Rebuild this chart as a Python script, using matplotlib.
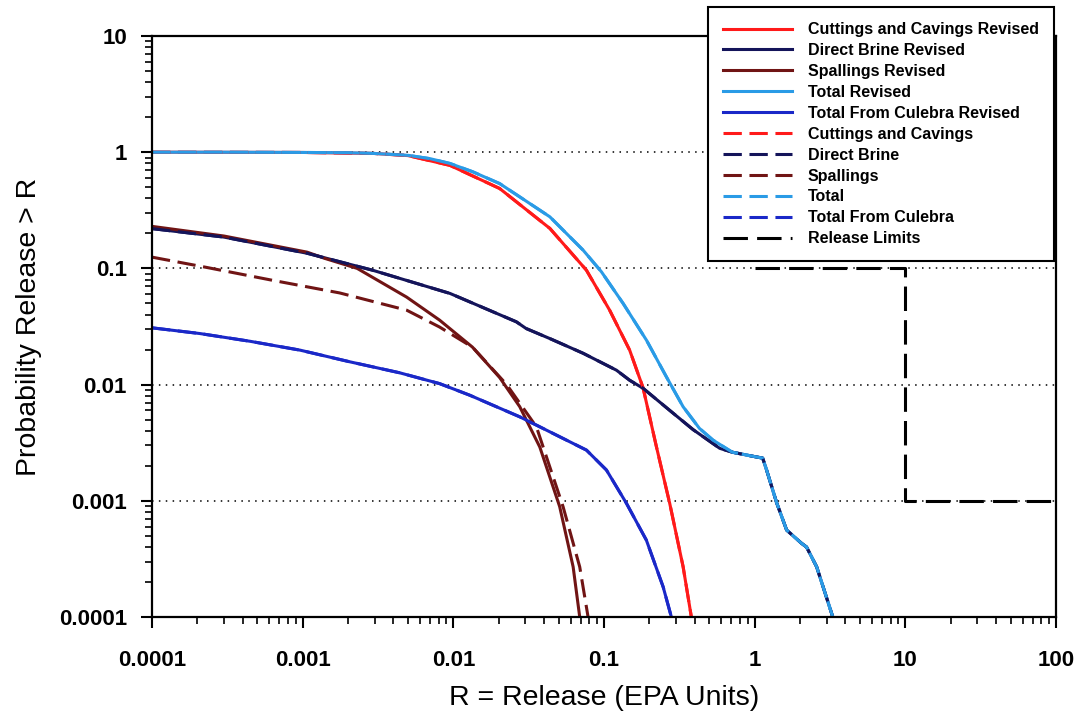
import numpy as np
import matplotlib
matplotlib.use("Agg")
import matplotlib.pyplot as plt
from matplotlib.ticker import FixedLocator, LogLocator, NullFormatter

plt.rcParams['font.family'] = ['Liberation Sans', 'DejaVu Sans']

# CCDF curves: release R (EPA units) vs probability release > R
cc_rev_x = [1e-4, 1e-3, 3e-3, 5e-3, 0.0095, 0.0203, 0.0437, 0.0764, 0.109, 0.148, 0.1816,
            0.2228, 0.273, 0.335, 0.38]
cc_rev_y = [1.0, 0.995, 0.975, 0.935, 0.77, 0.487, 0.221, 0.0966, 0.0437, 0.0198, 0.0094,
            0.00292, 0.00095, 0.000271, 0.0001]

db_rev_x = [1e-4, 3e-4, 1.07e-3, 2.9e-3, 0.0095, 0.0262, 0.0285, 0.0304, 0.0437, 0.0727,
            0.121, 0.148, 0.1816, 0.273, 0.39, 0.586, 0.71, 1.0, 1.13, 1.2, 1.4, 1.63,
            2.05, 2.21, 2.58, 3.3]
db_rev_y = [0.22, 0.186, 0.135, 0.0966, 0.0609, 0.0347, 0.0322, 0.0304, 0.0249, 0.0186,
            0.0133, 0.0109, 0.0093, 0.0060, 0.0041, 0.00283, 0.00262, 0.0024, 0.00233,
            0.00184, 0.00096, 0.00056, 0.00043, 0.0004, 0.00027, 0.0001]

sp_rev_x = [1e-4, 3e-4, 1.07e-3, 1.4e-3, 2.3e-3, 4.9e-3, 8.1e-3, 0.0134, 0.0203, 0.0276,
            0.0375, 0.0508, 0.0624, 0.069]
sp_rev_y = [0.23, 0.19, 0.138, 0.122, 0.1, 0.0566, 0.0359, 0.021, 0.0115, 0.00645,
            0.0029, 0.00089, 0.00027, 0.0001]

tot_rev_x = [1e-4, 3e-4, 1e-3, 2e-3, 3e-3, 5e-3, 7e-3, 0.0095, 0.0134, 0.0203, 0.0437,
             0.0727, 0.0962, 0.134, 0.1914, 0.2594, 0.335, 0.43, 0.529, 0.71, 1.0, 1.13,
             1.2, 1.4, 1.63, 2.05, 2.21, 2.58, 3.3]
tot_rev_y = [1.0, 1.0, 0.995, 0.99, 0.975, 0.94, 0.88, 0.80, 0.68, 0.537, 0.278,
             0.1435, 0.0934, 0.0499, 0.0241, 0.01167, 0.00645, 0.0042, 0.00333, 0.00262,
             0.0024, 0.00233, 0.00184, 0.00096, 0.00056, 0.00043, 0.0004, 0.00027, 0.0001]

cul_rev_x = [1e-4, 2.08e-4, 4.47e-4, 9.6e-4, 2.06e-3, 4.4e-3, 8.1e-3, 0.01286, 0.0276,
             0.0459, 0.0765, 0.1038, 0.141, 0.191, 0.2468, 0.28]
cul_rev_y = [0.0308, 0.0275, 0.0236, 0.0198, 0.0157, 0.01264, 0.0102, 0.0081, 0.00528,
             0.0038, 0.00273, 0.00184, 0.00095, 0.000459, 0.000182, 0.0001]

# earlier (non-revised) results
cc_x, cc_y = cc_rev_x, cc_rev_y
db_x, db_y = db_rev_x, db_rev_y
sp_x = [1e-4, 2.3e-4, 6.3e-4, 1.76e-3, 4.9e-3, 8.1e-3, 0.0134, 0.0226, 0.0356, 0.0535,
        0.069, 0.0784]
sp_y = [0.125, 0.102, 0.079, 0.0615, 0.0437, 0.0313, 0.021, 0.0100, 0.00433, 0.00089,
        0.00027, 0.0001]
tot_x, tot_y = tot_rev_x, tot_rev_y
cul_x, cul_y = cul_rev_x, cul_rev_y

limit_x = [1, 10, 10, 100]
limit_y = [0.1, 0.1, 0.001, 0.001]

RED = "#ff1a1a"
NAVY = "#14145a"
MAROON = "#701414"
LBLUE = "#2a9be6"
BLUE = "#1a28c8"

fig = plt.figure(figsize=(10.79, 7.19), dpi=100)
ax = fig.add_axes([152/1079, 1 - 617/719, (1056-152)/1079, (617-36)/719])

lw = 2.2
dash = (6, 2.5)
ax.plot(cc_rev_x, cc_rev_y, color=RED, lw=lw, label="Cuttings and Cavings Revised")
ax.plot(db_rev_x, db_rev_y, color=NAVY, lw=lw, label="Direct Brine Revised")
ax.plot(sp_rev_x, sp_rev_y, color=MAROON, lw=lw, label="Spallings Revised")
ax.plot(tot_rev_x, tot_rev_y, color=LBLUE, lw=lw, label="Total Revised")
ax.plot(cul_rev_x, cul_rev_y, color=BLUE, lw=lw, label="Total From Culebra Revised")
ax.plot(cc_x, cc_y, color=RED, lw=lw, dashes=dash, label="Cuttings and Cavings")
ax.plot(db_x, db_y, color=NAVY, lw=lw, dashes=dash, label="Direct Brine")
ax.plot(sp_x, sp_y, color=MAROON, lw=lw, dashes=dash, label="Spallings")
ax.plot(tot_x, tot_y, color=LBLUE, lw=lw, dashes=dash, label="Total")
ax.plot(cul_x, cul_y, color=BLUE, lw=lw, dashes=dash, label="Total From Culebra")
ax.plot(limit_x, limit_y, color="black", lw=lw, dashes=(8, 3), label="Release Limits")

ax.set_xscale("log")
ax.set_yscale("log")
ax.set_xlim(1e-4, 100)
ax.set_ylim(1e-4, 10)

xt = [1e-4, 1e-3, 1e-2, 0.1, 1, 10, 100]
xt_labels = ["0.0001", "0.001", "0.01", "0.1", "1", "10", "100"]
yt = [1e-4, 1e-3, 1e-2, 0.1, 1, 10]
yt_labels = ["0.0001", "0.001", "0.01", "0.1", "1", "10"]
ax.xaxis.set_major_locator(FixedLocator(xt))
ax.set_xticklabels(xt_labels, fontsize=16, fontweight="bold")
ax.yaxis.set_major_locator(FixedLocator(yt))
ax.set_yticklabels(yt_labels, fontsize=16, fontweight="bold")
for a in (ax.xaxis, ax.yaxis):
    a.set_minor_locator(LogLocator(base=10, subs=np.arange(2, 10), numticks=20))
    a.set_minor_formatter(NullFormatter())
ax.tick_params(which="major", direction="out", length=8, width=1.5, pad=10)
ax.tick_params(axis="x", which="major", pad=16)
ax.tick_params(which="minor", direction="out", length=5, width=1.2)

for s in ax.spines.values():
    s.set_linewidth(1.6)

ax.grid(True, which="major", axis="y", color="black", linestyle=(0, (1, 3.5)), lw=1.1)

ax.set_xlabel("R = Release (EPA Units)", fontsize=20.5, labelpad=10)
ax.set_ylabel("Probability Release > R", fontsize=20.5, labelpad=12)

leg = ax.legend(loc="upper left", bbox_to_anchor=(708/1079, 1 - 7/719),
                bbox_transform=fig.transFigure, borderaxespad=0, frameon=True,
                fancybox=False, edgecolor="black", framealpha=1,
                prop={"size": 11.5, "weight": "bold"}, handlelength=4.3,
                handletextpad=1.0, labelspacing=0.37, borderpad=0.95)
leg.get_frame().set_linewidth(1.5)

fig.savefig("out.png", dpi=100)
